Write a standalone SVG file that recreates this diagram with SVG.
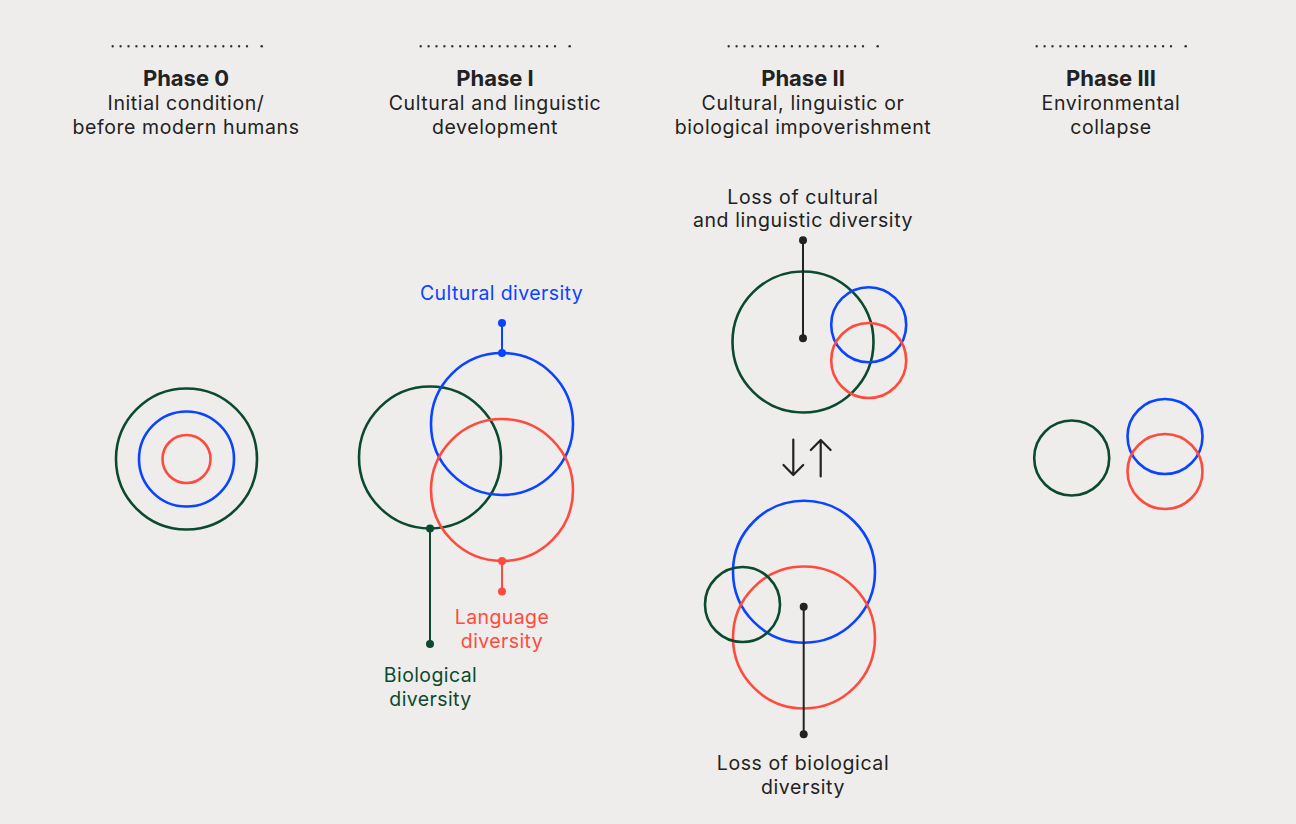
<svg xmlns="http://www.w3.org/2000/svg" width="1296" height="824" viewBox="0 0 1296 824">
<style>
text{font-family:Inter,"Liberation Sans",sans-serif;text-anchor:middle}
.t{font-size:22px;font-weight:700;fill:#222}
.s{font-size:19.5px;fill:#222;letter-spacing:0.6px}
.l{font-size:19.5px;letter-spacing:0.4px}
.c{fill:none;stroke-width:2.6}
.g{stroke:#0B4A2E}.b{stroke:#0A44FF}.r{stroke:#FF4B3E}.k{stroke:#222}
.dots{fill:none;stroke:#333;stroke-width:2.4;stroke-linecap:round;stroke-dasharray:0 7.9}
</style>
<rect width="1296" height="824" fill="#EEEDEB"/>
<g id="header-phase0">
<path class="dots" d="M112.7 46.3H251"/><circle cx="261.7" cy="46.3" r="1.3" fill="#333"/>
<text class="t" x="186" y="86">Phase 0</text>
<text class="s" x="186" y="110">Initial condition/</text>
<text class="s" x="186" y="134">before modern humans</text>
</g>
<g id="header-phase1">
<path class="dots" d="M420.7 46.3H559"/><circle cx="569.7" cy="46.3" r="1.3" fill="#333"/>
<text class="t" x="495" y="86">Phase I</text>
<text class="s" x="495" y="110">Cultural and linguistic</text>
<text class="s" x="495" y="134">development</text>
</g>
<g id="header-phase2">
<path class="dots" d="M728.7 46.3H867"/><circle cx="877.7" cy="46.3" r="1.3" fill="#333"/>
<text class="t" x="803" y="86">Phase II</text>
<text class="s" x="803" y="110">Cultural, linguistic or</text>
<text class="s" x="803" y="134">biological impoverishment</text>
</g>
<g id="header-phase3">
<path class="dots" d="M1036.7 46.3H1175"/><circle cx="1185.7" cy="46.3" r="1.3" fill="#333"/>
<text class="t" x="1111" y="86">Phase III</text>
<text class="s" x="1111" y="110">Environmental</text>
<text class="s" x="1111" y="134">collapse</text>
</g>
<g id="phase0-circles">
<circle class="c g" cx="186.5" cy="459" r="70.5"/>
<circle class="c b" cx="186.5" cy="459" r="47.5"/>
<circle class="c r" cx="186.5" cy="459" r="24"/>
</g>
<g id="phase1-circles">
<circle class="c g" cx="430" cy="457.5" r="71"/>
<circle class="c b" cx="502" cy="424" r="71"/>
<circle class="c r" cx="502" cy="490" r="71"/>
</g>
<g id="phase2-top">
<circle class="c g" cx="803" cy="342" r="70.5"/>
<circle class="c b" cx="868.7" cy="324.7" r="37.5"/>
<circle class="c r" cx="868.7" cy="360.5" r="37.5"/>
</g>
<g id="phase2-bottom">
<circle class="c b" cx="804" cy="571.7" r="71"/>
<circle class="c r" cx="804" cy="637.5" r="71"/>
<circle class="c g" cx="742.5" cy="604.5" r="37.5"/>
</g>
<g id="phase3-circles">
<circle class="c g" cx="1071.7" cy="458" r="37.5"/>
<circle class="c b" cx="1165" cy="436.5" r="37.5"/>
<circle class="c r" cx="1165" cy="471.5" r="37.5"/>
</g>
<g id="connectors" stroke-width="2" fill="none">
<g stroke="#0A44FF" fill="#0A44FF"><path d="M502 323V353"/><circle cx="502" cy="323" r="4" stroke="none"/><circle cx="502" cy="353" r="4" stroke="none"/></g>
<g stroke="#0B4A2E" fill="#0B4A2E"><path d="M430 528.5V644"/><circle cx="430" cy="528.5" r="4" stroke="none"/><circle cx="430" cy="644" r="4" stroke="none"/></g>
<g stroke="#FF4B3E" fill="#FF4B3E"><path d="M502 561V591.5"/><circle cx="502" cy="561" r="4" stroke="none"/><circle cx="502" cy="591.5" r="4" stroke="none"/></g>
<g stroke="#222" fill="#222"><path d="M803 240.3V338.3"/><circle cx="803" cy="240.3" r="4" stroke="none"/><circle cx="803" cy="338.3" r="4" stroke="none"/></g>
<g stroke="#222" fill="#222"><path d="M803.7 606.7V734.3"/><circle cx="803.7" cy="606.7" r="4" stroke="none"/><circle cx="803.7" cy="734.3" r="4" stroke="none"/></g>
<g stroke="#222" stroke-width="2.2" stroke-linecap="round" stroke-linejoin="round"><path d="M793.3 439.5V475M783.5 465L793.3 475L803.2 465"/><path d="M820.7 476.5V440M810.8 450L820.7 440L830.6 450"/></g>
</g>
<g id="labels">
<text class="l" x="501.5" y="300" fill="#0A44FF">Cultural diversity</text>
<text class="l" x="502" y="624" fill="#FF4B3E">Language</text>
<text class="l" x="502" y="648" fill="#FF4B3E">diversity</text>
<text class="l" x="430.5" y="682" fill="#0B4A2E">Biological</text>
<text class="l" x="430.5" y="706" fill="#0B4A2E">diversity</text>
<text class="s" x="803" y="203.5">Loss of cultural</text>
<text class="s" x="803" y="227">and linguistic diversity</text>
<text class="s" x="803" y="769.5">Loss of biological</text>
<text class="s" x="803" y="793.5">diversity</text>
</g>
</svg>
